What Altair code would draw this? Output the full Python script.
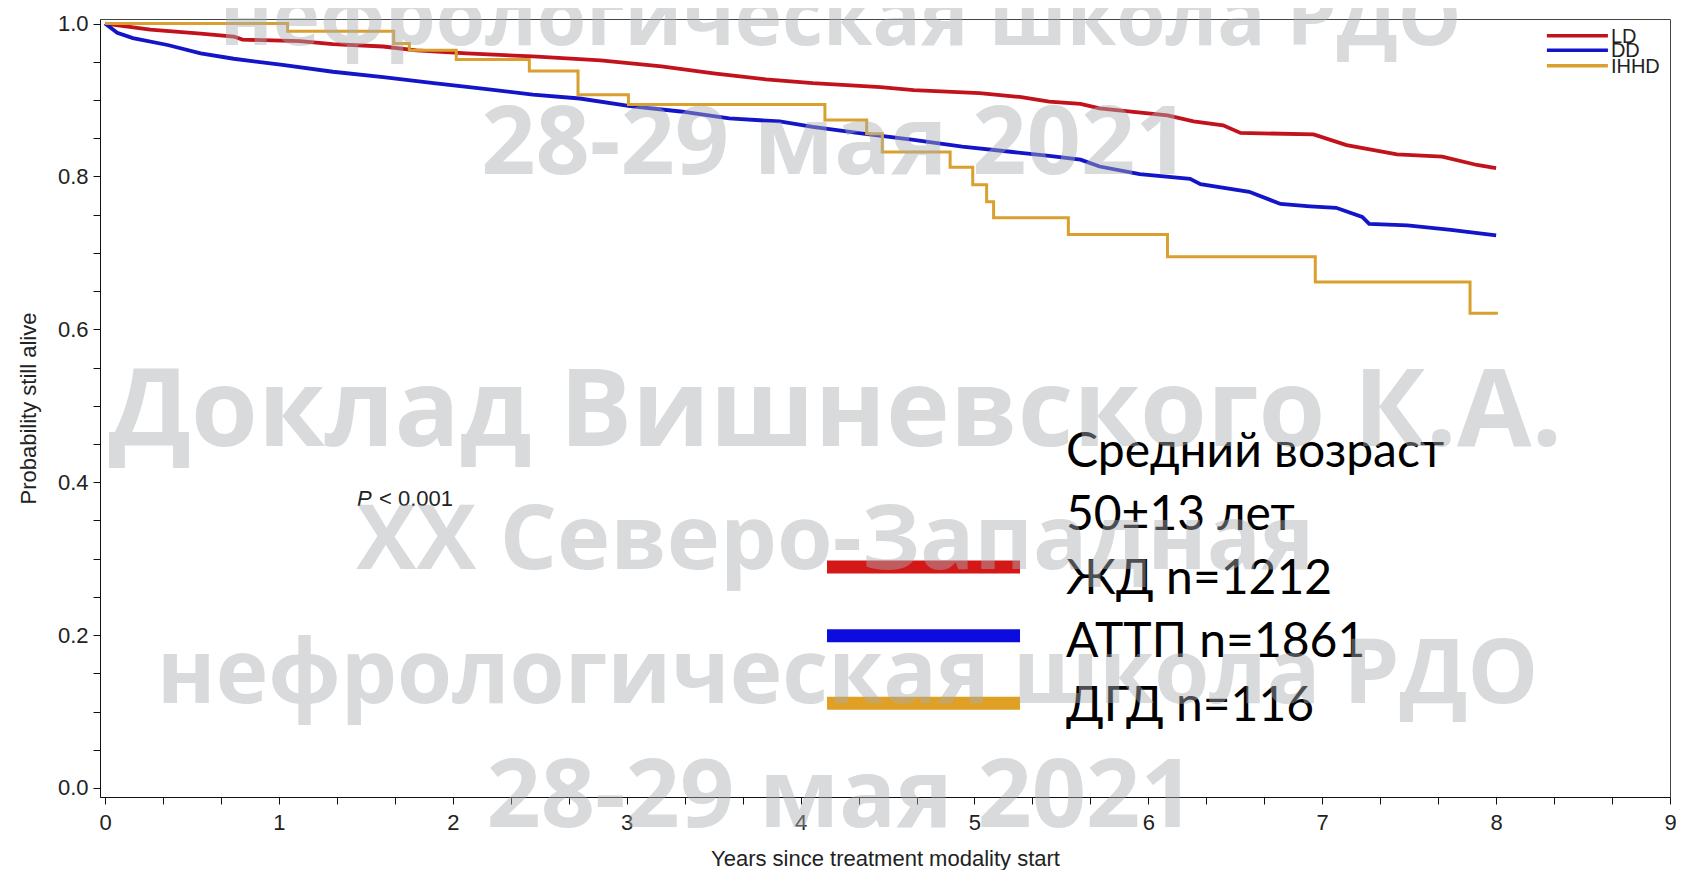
import altair as alt
import pandas as pd

# ---------------- data ----------------
ld_years = [0, 0.26, 0.55, 0.74, 0.79, 1.12, 1.31, 1.60, 1.79, 2.08, 2.46, 2.85, 3.2, 3.5, 3.8,
            4.07, 4.46, 4.65, 5.03, 5.26, 5.43, 5.61, 5.72, 6.11, 6.26, 6.43, 6.53, 6.95, 7.14,
            7.43, 7.69, 7.89, 8.0]
ld_surv = [1.0, 0.992, 0.987, 0.983, 0.979, 0.977, 0.973, 0.970, 0.965, 0.961, 0.957, 0.952,
           0.944, 0.935, 0.927, 0.922, 0.917, 0.913, 0.909, 0.904, 0.898, 0.895, 0.889, 0.880,
           0.872, 0.867, 0.857, 0.855, 0.841, 0.829, 0.826, 0.815, 0.811]

dd_years = [0, 0.07, 0.16, 0.36, 0.55, 0.74, 1.02, 1.31, 1.60, 1.89, 2.17, 2.46, 2.73, 3.02,
            3.31, 3.59, 3.88, 4.07, 4.36, 4.65, 4.93, 5.22, 5.43, 5.61, 5.72, 5.95, 6.24, 6.30,
            6.58, 6.76, 6.93, 7.08, 7.23, 7.27, 7.49, 7.74, 8.0]
dd_surv = [1.0, 0.988, 0.981, 0.972, 0.961, 0.954, 0.946, 0.937, 0.930, 0.922, 0.915, 0.907,
           0.902, 0.892, 0.885, 0.876, 0.872, 0.865, 0.856, 0.848, 0.839, 0.832, 0.827, 0.822,
           0.813, 0.803, 0.797, 0.790, 0.780, 0.764, 0.761, 0.759, 0.747, 0.738, 0.736, 0.730,
           0.723]

ihhd_years = [0, 1.05, 1.66, 1.75, 2.02, 2.44, 2.72, 3.01, 4.14, 4.38, 4.47, 4.86, 4.99, 5.07,
              5.11, 5.54, 6.11, 6.96, 7.85, 8.01]
ihhd_surv = [1.0, 0.990, 0.974, 0.965, 0.953, 0.938, 0.907, 0.894, 0.874, 0.856, 0.832, 0.812,
             0.789, 0.767, 0.746, 0.724, 0.695, 0.662, 0.621, 0.621]

series_names = ["LD", "DD", "IHHD"]
annot_lines = ["Средний возраст", "50±13 лет", "ЖД n=1212", "АТТП n=1861", "ДГД n=116"]
pvalue_italic = "P"
pvalue_rest = "< 0.001"
x_title = "Years since treatment modality start"
y_title = "Probability still alive"
watermark_lines = ["нефрологическая школа РДО", "28-29 мая 2021", "Доклад Вишневского К.А.",
                   "XX Северо-Западная", "нефрологическая школа РДО", "28-29 мая 2021"]

# ---------------- styling / positions ----------------
RED, BLUE, GOLD = "#c2121c", "#1414c8", "#d9a030"
SW_RED, SW_BLUE, SW_GOLD = "#d41818", "#0c0ce0", "#e0a024"

x_ticks = [i / 3 for i in range(28)]
y_ticks = [round(i * 0.05, 2) for i in range(21)]

xs = alt.Scale(domain=[-0.029, 9], nice=False, zero=False)
ys = alt.Scale(domain=[-0.0118, 1.006], nice=False, zero=False)

AX_FONT = "Liberation Sans"
x_axis = alt.Axis(values=x_ticks,
                  labelExpr="abs(datum.value - round(datum.value)) < 0.01 ? format(datum.value, 'd') : ''",
                  title=x_title, titleFont=AX_FONT, titleFontSize=22, titleFontWeight="normal",
                  titleColor="#222", titlePadding=15, labelFont=AX_FONT, labelFontSize=22,
                  labelColor="#222", labelPadding=8, tickSize=7, tickColor="#111",
                  domainColor="#111", grid=False, labelFlush=False, labelOverlap=False)
y_axis = alt.Axis(values=y_ticks,
                  labelExpr="abs(datum.value*5 - round(datum.value*5)) < 0.01 ? format(datum.value, '.1f') : ''",
                  title=y_title, titleFont=AX_FONT, titleFontSize=22, titleFontWeight="normal",
                  titleColor="#222", titlePadding=17, labelFont=AX_FONT, labelFontSize=22,
                  labelColor="#222", labelPadding=5, tickSize=7, tickColor="#111",
                  domainColor="#111", grid=False, labelOverlap=False)

def X(field="x"):
    return alt.X(f"{field}:Q", scale=xs, axis=x_axis)

def Y(field="y"):
    return alt.Y(f"{field}:Q", scale=ys, axis=y_axis)

ld_df = pd.DataFrame({"x": ld_years, "y": ld_surv})
dd_df = pd.DataFrame({"x": dd_years, "y": dd_surv})
ih_df = pd.DataFrame({"x": ihhd_years, "y": ihhd_surv})

ld_line = alt.Chart(ld_df).mark_line(color=RED, strokeWidth=3.8).encode(x=X(), y=Y())
dd_line = alt.Chart(dd_df).mark_line(color=BLUE, strokeWidth=3.8).encode(x=X(), y=Y())
ih_line = alt.Chart(ih_df).mark_line(color=GOLD, strokeWidth=3, interpolate="step-after").encode(x=X(), y=Y())

# top-right legend
leg_df = pd.DataFrame({"name": series_names,
                       "x0": [8.292] * 3, "x1": [8.643] * 3,
                       "y": [0.984, 0.965, 0.945], "col": [RED, BLUE, GOLD]})
leg_lines = alt.Chart(leg_df).mark_rule(strokeWidth=3.5).encode(
    x=X("x0"), x2="x1", y=Y(), color=alt.Color("col:N", scale=None))
leg_text = alt.Chart(leg_df).mark_text(align="left", baseline="middle", dx=3, dy=1,
                                       font=AX_FONT, fontSize=20, color="#222").encode(
    x=X("x1"), y=Y(), text="name:N")

# P value
p_df = pd.DataFrame({"x": [1.449], "y": [0.378], "a": [pvalue_italic], "b": [pvalue_rest]})
p1 = alt.Chart(p_df).mark_text(align="left", baseline="middle", font=AX_FONT, fontSize=22,
                               fontStyle="italic", color="#222").encode(x=X(), y=Y(), text="a:N")
p2 = alt.Chart(p_df).mark_text(align="left", baseline="middle", dx=22, font=AX_FONT, fontSize=22,
                               color="#222").encode(x=X(), y=Y(), text="b:N")

# big annotation
an_df = pd.DataFrame({"t": annot_lines, "x": [5.526] * 5,
                      "y": [0.420, 0.3375, 0.254, 0.171, 0.0877]})
an_text = alt.Chart(an_df).mark_text(align="left", baseline="alphabetic", font="Lato",
                                     fontSize=48, color="#000").encode(x=X(), y=Y(), text="t:N")
sw_df = pd.DataFrame({"x0": [4.152] * 3, "x1": [5.262] * 3, "y": [0.289, 0.199, 0.111],
                      "col": [SW_RED, SW_BLUE, SW_GOLD]})
swatches = alt.Chart(sw_df).mark_rule(strokeWidth=13, strokeCap="butt").encode(
    x=X("x0"), x2="x1", y=Y(), color=alt.Color("col:N", scale=None))

# watermark
wm_df = pd.DataFrame({"t": watermark_lines,
                      "x": [4.23, 4.20, 4.20, 4.20, 4.27, 4.23],
                      "y": [0.972, 0.803, 0.447, 0.286, 0.111, -0.051],
                      "fs": [80, 95, 108, 90, 89, 95]})
watermark = alt.Chart(wm_df).mark_text(align="center", baseline="alphabetic", font="Open Sans",
                                       fontWeight="bold", color="#a9aeb3", opacity=0.45).encode(
    x=X(), y=Y(), text="t:N", size=alt.Size("fs:Q", scale=None, legend=None))

chart = alt.layer(
    ld_line, dd_line, ih_line, leg_lines, leg_text, p1, p2, swatches, an_text, watermark
).properties(
    width=1570, height=778,
    padding={"left": 92, "top": 11, "right": 6, "bottom": 73},
    autosize=alt.AutoSizeParams(type="none"),
    background="white",
).configure_view(stroke="#444", strokeWidth=1)

chart.save("out.html", embed_options={"renderer": "svg", "actions": False})
